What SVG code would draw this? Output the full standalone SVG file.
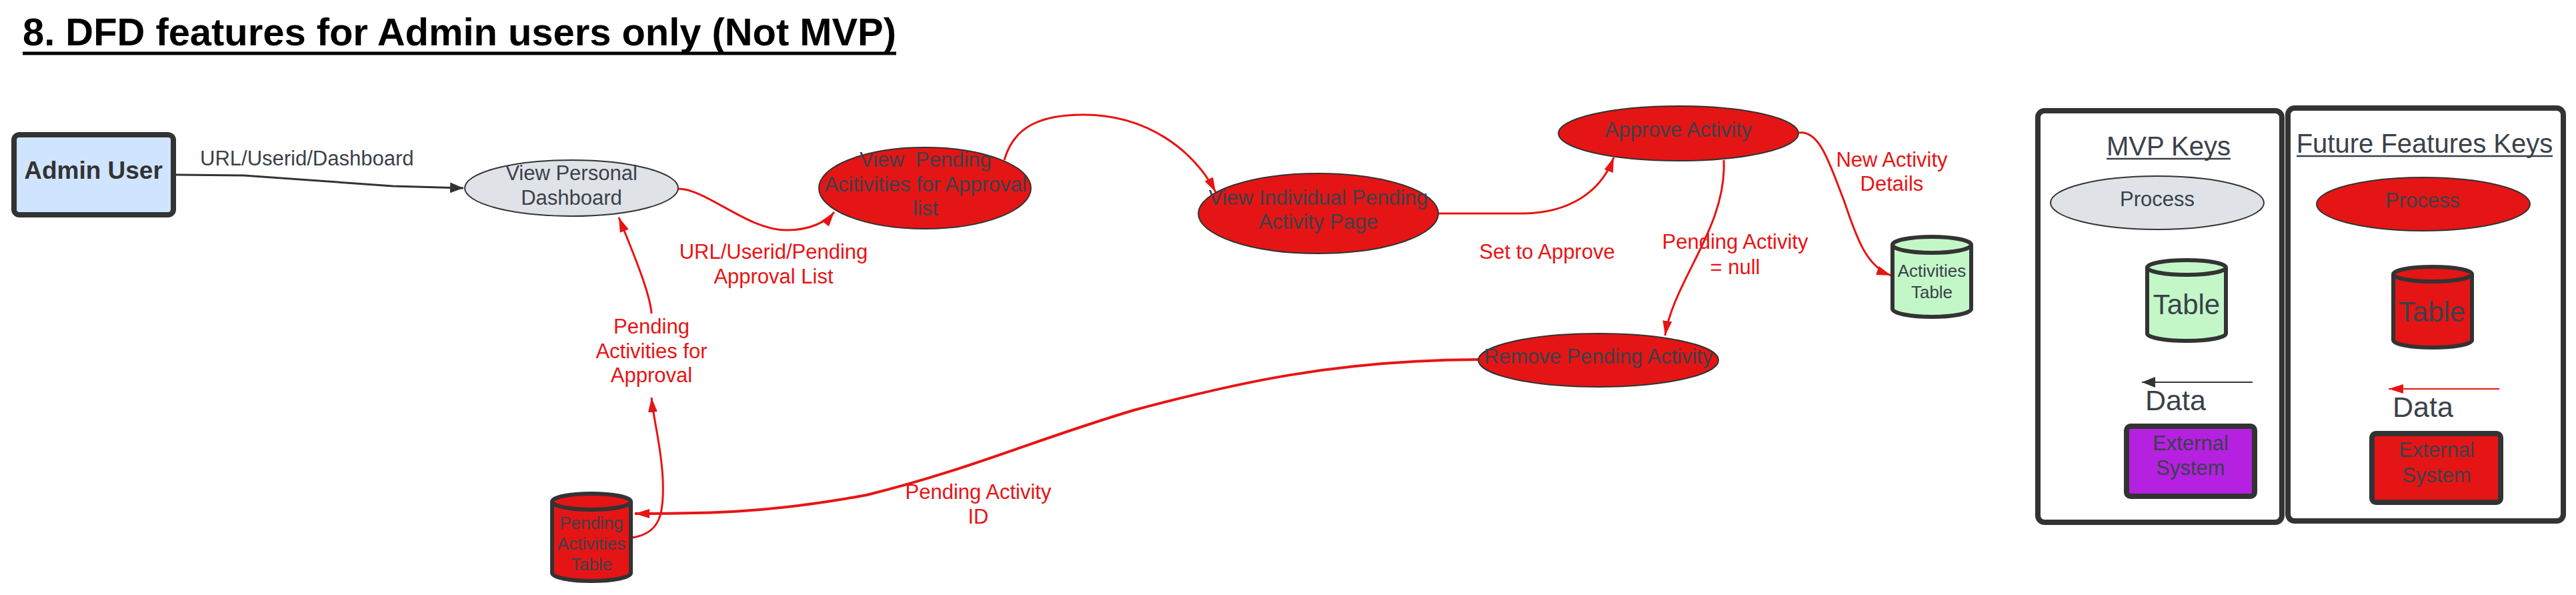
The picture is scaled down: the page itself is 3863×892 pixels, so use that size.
<svg xmlns="http://www.w3.org/2000/svg" width="3863" height="892" viewBox="0 0 3863 892">
<style>
text{font-family:"Liberation Sans",Arial,sans-serif;}
.title{font-size:58px;font-weight:bold;fill:#000;}
.nt{font-size:31px;fill:#3a414a;text-anchor:middle;}
.tt{font-size:26px;fill:#3a414a;text-anchor:middle;}
.lbl{font-size:31px;fill:#e81313;text-anchor:middle;}
.dlbl{font-size:31px;fill:#3a414a;}
.red{fill:#e51515;stroke:#333;stroke-width:2;}
.gray{fill:#dfe2e7;stroke:#333;stroke-width:2;}
.cyl{stroke:#333;stroke-width:6;}
.cyltop{fill:none;stroke:#333;stroke-width:6;}
.rc{fill:none;stroke:#e81313;stroke-width:3;}
.dc{fill:none;stroke:#333;stroke-width:3;}
.box{stroke:#333;stroke-width:8;}
.key{font-size:40px;fill:#3a414a;text-anchor:middle;}
</style>
<defs>
<marker id="ar" markerUnits="userSpaceOnUse" markerWidth="24" markerHeight="16" refX="22" refY="7" orient="auto"><path d="M0,0 L22,7 L0,14 z" fill="#e81313"/></marker>
<marker id="ad" markerUnits="userSpaceOnUse" markerWidth="22" markerHeight="18" refX="20" refY="8" orient="auto"><path d="M0,0 L20,8 L0,16 z" fill="#333"/></marker>
</defs>
<rect width="3863" height="892" fill="#fff"/>
<g id="title">
<text class="title" x="34" y="68" textLength="1310" lengthAdjust="spacingAndGlyphs">8. DFD features for Admin users only (Not MVP)</text>
<line x1="34" y1="80" x2="1344" y2="80" stroke="#000" stroke-width="5"/>
</g>
<g id="connectors">
<path class="dc" d="M264,262 L365,263 L589,279 L695,282" marker-end="url(#ad)"/>
<path class="rc" d="M1017,283 C1060,283 1120,345 1180,345 C1215,345 1240,332 1251,318" marker-end="url(#ar)"/>
<path class="rc" d="M1506,240 C1520,190 1560,172 1625,172 C1720,172 1790,225 1823,288" marker-end="url(#ar)"/>
<path class="rc" d="M2157,320 L2282,320 C2350,320 2400,290 2420,236" marker-end="url(#ar)"/>
<path class="rc" d="M2585,240 C2590,340 2510,420 2497,503" marker-end="url(#ar)"/>
<path class="rc" d="M2698,199 C2730,195 2745,250 2765,300 C2785,360 2800,400 2836,413" marker-end="url(#ar)"/>
<path class="rc" style="stroke-width:4" d="M2217,539 C2000,540 1850,575 1700,615 C1550,660 1450,705 1300,742 C1150,770 1050,770 952,770" marker-end="url(#ar)"/>
<path class="rc" d="M948,806 C990,800 996,770 994,720 C992,670 980,630 977,596" marker-end="url(#ar)"/>
<path class="rc" d="M977,470 C975,440 950,380 928,326" marker-end="url(#ar)"/>
<text class="dlbl" x="300" y="248">URL/Userid/Dashboard</text>
<text class="lbl" x="1160" y="388">URL/Userid/Pending</text>
<text class="lbl" x="1160" y="425">Approval List</text>
<text class="lbl" x="2320" y="388">Set to Approve</text>
<text class="lbl" x="2602" y="373">Pending Activity</text>
<text class="lbl" x="2602" y="411">= null</text>
<text class="lbl" x="2837" y="250">New Activity</text>
<text class="lbl" x="2837" y="286">Details</text>
<text class="lbl" x="1467" y="748">Pending Activity</text>
<text class="lbl" x="1467" y="785">ID</text>
<text class="lbl" x="977" y="500">Pending</text>
<text class="lbl" x="977" y="537">Activities for</text>
<text class="lbl" x="977" y="573">Approval</text>
</g>
<g id="admin-user">
<rect class="box" x="21" y="202" width="239" height="120" rx="8" fill="#cfe4ff"/>
<text x="140" y="268" font-size="37" font-weight="bold" fill="#333" text-anchor="middle">Admin User</text>
</g>
<g id="view-personal-dashboard">
<ellipse class="gray" cx="857" cy="282" rx="160" ry="42"/>
<text class="nt" x="857" y="270">View Personal</text>
<text class="nt" x="857" y="307">Dashboard</text>
</g>
<g id="view-pending-activities">
<ellipse class="red" cx="1387" cy="282" rx="159" ry="61"/>
<text class="nt" x="1388" y="250" xml:space="preserve">View  Pending</text>
<text class="nt" x="1388" y="287">Acitivities for Approval</text>
<text class="nt" x="1388" y="323">list</text>
</g>
<g id="view-individual-pending">
<ellipse class="red" cx="1977" cy="320" rx="180" ry="60"/>
<text class="nt" x="1977" y="307">View Individual Pending</text>
<text class="nt" x="1977" y="343">Activity Page</text>
</g>
<g id="approve-activity">
<ellipse class="red" cx="2517" cy="200" rx="180" ry="41"/>
<text class="nt" x="2517" y="205">Approve Activity</text>
</g>
<g id="remove-pending-activity">
<ellipse class="red" cx="2397" cy="540" rx="180" ry="40"/>
<text class="nt" x="2397" y="545">Remove Pending Activity</text>
</g>
<g id="activities-table">
<path class="cyl" fill="#c3f7c8" d="M2838,367 A59,12 0 0 1 2956,367 L2956,463 A59,12 0 0 1 2838,463 Z"/>
<path class="cyltop" d="M2838,367 A59,12 0 0 0 2956,367"/>
<text class="tt" x="2897" y="415">Activities</text>
<text class="tt" x="2897" y="447">Table</text>
</g>
<g id="pending-activities-table">
<path class="cyl" fill="#e51515" d="M828,752 A59,12 0 0 1 946,752 L946,859 A59,12 0 0 1 828,859 Z"/>
<path class="cyltop" d="M828,752 A59,12 0 0 0 946,752"/>
<text class="tt" x="887" y="793">Pending</text>
<text class="tt" x="887" y="824">Activities</text>
<text class="tt" x="887" y="855">Table</text>
</g>
<g id="mvp-keys">
<rect class="box" x="3056" y="166" width="366" height="617" rx="10" fill="#fff"/>
<text class="key" x="3252" y="233">MVP Keys</text>
<line x1="3159" y1="238" x2="3345" y2="238" stroke="#3a414a" stroke-width="2.5"/>
<ellipse class="gray" cx="3235" cy="304" rx="160" ry="40"/>
<text class="nt" x="3235" y="309">Process</text>
<path class="cyl" fill="#c3f7c8" d="M3220,401 A59,11 0 0 1 3338,401 L3338,500 A59,11 0 0 1 3220,500 Z"/>
<path class="cyltop" d="M3220,401 A59,11 0 0 0 3338,401"/>
<text x="3279" y="471" font-size="42" fill="#3a414a" text-anchor="middle">Table</text>
<path fill="none" stroke="#333" stroke-width="2" d="M3378,573 L3212,573" marker-end="url(#ad)"/>
<text x="3217" y="615" font-size="43" fill="#3a414a">Data</text>
<rect class="box" x="3189" y="639" width="192" height="105" rx="6" fill="#b620e0"/>
<text class="nt" x="3285" y="675">External</text>
<text class="nt" x="3285" y="712">System</text>
</g>
<g id="future-keys">
<rect class="box" x="3431" y="162" width="413" height="619" rx="10" fill="#fff"/>
<text class="key" x="3636" y="229">Future Features Keys</text>
<line x1="3444" y1="234" x2="3828" y2="234" stroke="#3a414a" stroke-width="2.5"/>
<ellipse class="red" cx="3634" cy="306" rx="160" ry="40"/>
<text class="nt" x="3633" y="311">Process</text>
<path class="cyl" fill="#e51515" d="M3589,411 A59,11 0 0 1 3707,411 L3707,510 A59,11 0 0 1 3589,510 Z"/>
<path class="cyltop" d="M3589,411 A59,11 0 0 0 3707,411"/>
<text x="3647" y="482" font-size="42" fill="#3a414a" text-anchor="middle">Table</text>
<path fill="none" stroke="#e81313" stroke-width="2" d="M3748,583 L3582,583" marker-end="url(#ar)"/>
<text x="3588" y="625" font-size="43" fill="#3a414a">Data</text>
<rect class="box" x="3557" y="650" width="193" height="103" rx="6" fill="#e51515"/>
<text class="nt" x="3654" y="685">External</text>
<text class="nt" x="3654" y="723">System</text>
</g>
</svg>
